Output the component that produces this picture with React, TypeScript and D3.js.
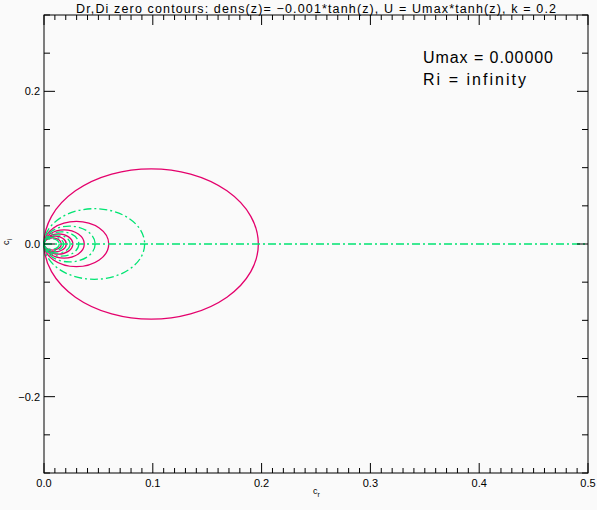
import React from "react";
import * as d3 from "d3";

// axis ranges and tick values
const xDomain = [0, 0.5];
const yDomain = [-0.3, 0.3];
const xMajorTicks = [0, 0.1, 0.2, 0.3, 0.4, 0.5];
const xTickLabels = ["0.0", "0.1", "0.2", "0.3", "0.4", "0.5"];
const yMajorTicks = [-0.2, 0, 0.2];
const yTickLabels = ["\u22120.2", "0.0", "0.2"];

// zero contours: closed loops tangent to the origin, listed by their far x-intercept
const drZeroDiameters = [0.197, 0.0595, 0.037, 0.0265, 0.0205, 0.016];
const diZeroDiameters = [0.0925, 0.047, 0.032, 0.024, 0.018, 0.014];
// Di = 0 also along the real axis
const diZeroLine: [number, number][] = [[0, 0], [0.5, 0]];

const W = 597, H = 510;
const left = 44, right = 588, top = 15, bottom = 473;
const magenta = "#e4006c";
const green = "#00e472";
const font = "'Liberation Sans', Arial, sans-serif";

export default function App() {
  const x = d3.scaleLinear().domain(xDomain).range([left, right]);
  const y = d3.scaleLinear().domain(yDomain).range([bottom, top]);

  const xMinor = d3.range(0, 0.5001, 0.01).map(v => +v.toFixed(2));
  const yMinor = d3.range(-0.3, 0.3001, 0.05).map(v => +v.toFixed(2));
  const isMajor = (v: number, arr: number[]) => arr.some(m => Math.abs(m - v) < 1e-6);

  const line = d3.line<[number, number]>().x(d => x(d[0])).y(d => y(d[1]));

  return (
    <svg width={W} height={H} style={{ position: "absolute", left: 0, top: 0, background: "#fafafa" }}>
      <rect x={0} y={0} width={W} height={H} fill="#fafafa" />
      <text x={316} y={13} textAnchor="middle" fontFamily={font} fontSize={12.5} textLength={480} fill="#000">
        Dr,Di zero contours: dens(z)= −0.001*tanh(z), U = Umax*tanh(z), k = 0.2
      </text>

      {/* contours */}
      {drZeroDiameters.map((d, i) => (
        <ellipse key={"dr" + i} cx={x(d / 2)} cy={y(0)} rx={x(d / 2) - x(0)} ry={y(0) - y(d / 2)}
          fill="none" stroke={magenta} strokeWidth={1.3} />
      ))}
      {diZeroDiameters.map((d, i) => (
        <ellipse key={"di" + i} cx={x(d / 2)} cy={y(0)} rx={x(d / 2) - x(0)} ry={y(0) - y(d / 2)}
          fill="none" stroke={green} strokeWidth={1.3} strokeDasharray="8,3,2,3" />
      ))}
      <path d={line(diZeroLine) || ""} fill="none" stroke={green} strokeWidth={1.3} strokeDasharray="8,3,2,3" />

      {/* frame */}
      <rect x={left} y={top} width={right - left} height={bottom - top} fill="none" stroke="#000" strokeWidth={1} />
      {xMinor.map((v, i) => {
        const len = isMajor(v, xMajorTicks) ? 10 : 5;
        return (
          <g key={"xt" + i} stroke="#000">
            <line x1={x(v)} x2={x(v)} y1={bottom} y2={bottom - len} />
            <line x1={x(v)} x2={x(v)} y1={top} y2={top + len} />
          </g>
        );
      })}
      {yMinor.map((v, i) => {
        const len = isMajor(v, yMajorTicks) ? 11 : 6;
        return (
          <g key={"yt" + i} stroke="#000">
            <line x1={left} x2={left + len} y1={y(v)} y2={y(v)} />
            <line x1={right} x2={right - len} y1={y(v)} y2={y(v)} />
          </g>
        );
      })}
      {xMajorTicks.map((v, i) => (
        <text key={"xl" + i} x={x(v)} y={487} textAnchor="middle" fontFamily={font} fontSize={11}>{xTickLabels[i]}</text>
      ))}
      {yMajorTicks.map((v, i) => (
        <text key={"yl" + i} x={40} y={y(v) + 4} textAnchor="end" fontFamily={font} fontSize={11}>{yTickLabels[i]}</text>
      ))}
      <text x={313} y={494} fontFamily={font} fontSize={9}>c<tspan fontSize={7} dy={3}>r</tspan></text>
      <text transform={`translate(9,${y(0) + 1}) rotate(-90)`} fontFamily={font} fontSize={9}>c<tspan fontSize={7} dy={3}>i</tspan></text>

      <text x={423} y={63} fontFamily={font} fontSize={16} textLength={130}>Umax = 0.00000</text>
      <text x={423} y={85} fontFamily={font} fontSize={16} textLength={103}>Ri = infinity</text>
    </svg>
  );
}
